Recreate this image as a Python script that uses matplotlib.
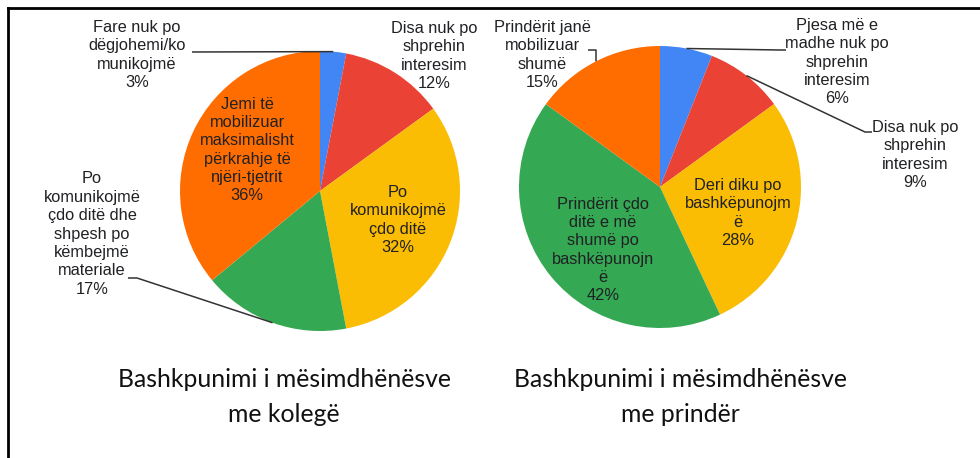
import matplotlib.pyplot as plt
from matplotlib.lines import Line2D
import numpy as np

W, H = 980, 458

colors = ['#4285F4', '#EA4335', '#FBBC04', '#34A853', '#FF6D01']

kolege_labels = ['Fare nuk po\ndëgjohemi/ko\nmunikojmë',
                 'Disa nuk po\nshprehin\ninteresim',
                 'Po\nkomunikojmë\nçdo ditë',
                 'Po\nkomunikojmë\nçdo ditë dhe\nshpesh po\nkëmbejmë\nmateriale',
                 'Jemi të\nmobilizuar\nmaksimalisht\npërkrahje të\nnjëri-tjetrit']
kolege_values = [3, 12, 32, 17, 36]

prinder_labels = ['Pjesa më e\nmadhe nuk po\nshprehin\ninteresim',
                  'Disa nuk po\nshprehin\ninteresim',
                  'Deri diku po\nbashkëpunojm\në',
                  'Prindërit çdo\nditë e më\nshumë po\nbashkëpunojn\në',
                  'Prindërit janë\nmobilizuar\nshumë']
prinder_values = [6, 9, 28, 42, 15]

titles = ['Bashkpunimi i mësimdhënësve\nme kolegë',
          'Bashkpunimi i mësimdhënësve\nme prindër']

# layout in pixels (y measured from the top)
pies = [
    dict(values=kolege_values, labels=kolege_labels, center=(320, 191), r=140,
         text_pos=[(137, 55), (434, 56), (398, 220), (92, 234), (247, 150)],
         leaders=[[(192, 52)], None, None, [(137, 278), (128, 278)], None],
         title_pos=(284, 397)),
    dict(values=prinder_values, labels=prinder_labels, center=(660, 187), r=141,
         text_pos=[(837, 62), (915, 155), (738, 213), (603, 250), (542, 55)],
         leaders=[[(780, 50), (786, 50)], [(865, 132), (872, 132)], None, None,
                  [(596, 50), (588, 50)]],
         title_pos=(680, 397)),
]

fig = plt.figure(figsize=(W / 100, H / 100), dpi=100)
ax = fig.add_axes([0, 0, 1, 1])

def fy(y):
    return H - y

lab_font = dict(family='Liberation Sans', fontsize=11.8, color='#202124',
                ha='center', va='center', linespacing=1.28)

for k, p in enumerate(pies):
    cx, cy = p['center']
    wedges, _ = ax.pie(p['values'], colors=colors, startangle=90, counterclock=False,
                       center=(cx, fy(cy)), radius=p['r'],
                       wedgeprops=dict(linewidth=0))
    for i, w in enumerate(wedges):
        val = p['values'][i]
        tx, ty = p['text_pos'][i]
        ax.text(tx, fy(ty), p['labels'][i] + '\n%d%%' % val, **lab_font)
        if p['leaders'][i] is not None:
            mid = np.deg2rad((w.theta1 + w.theta2) / 2)
            ex = cx + p['r'] * np.cos(mid)
            ey = fy(cy) + p['r'] * np.sin(mid)
            xs = [ex] + [q[0] for q in p['leaders'][i]]
            ys = [ey] + [fy(q[1]) for q in p['leaders'][i]]
            ax.plot(xs, ys, color='#333333', lw=1.1, solid_capstyle='butt')
    tx, ty = p['title_pos']
    ax.text(tx, fy(ty), titles[k], family='Lato', fontsize=17.8, ha='center',
            va='center', linespacing=1.6, color='#111111')

ax.set_xlim(0, W)
ax.set_ylim(0, H)
ax.set_aspect('auto')
ax.axis('off')

# frame lines at top and left
fig.add_artist(Line2D([8 / W, 1], [1 - 8 / H, 1 - 8 / H], color='black', lw=2))
fig.add_artist(Line2D([8 / W, 8 / W], [0, 1 - 8 / H], color='black', lw=2))

fig.savefig('out.png', dpi=100)
